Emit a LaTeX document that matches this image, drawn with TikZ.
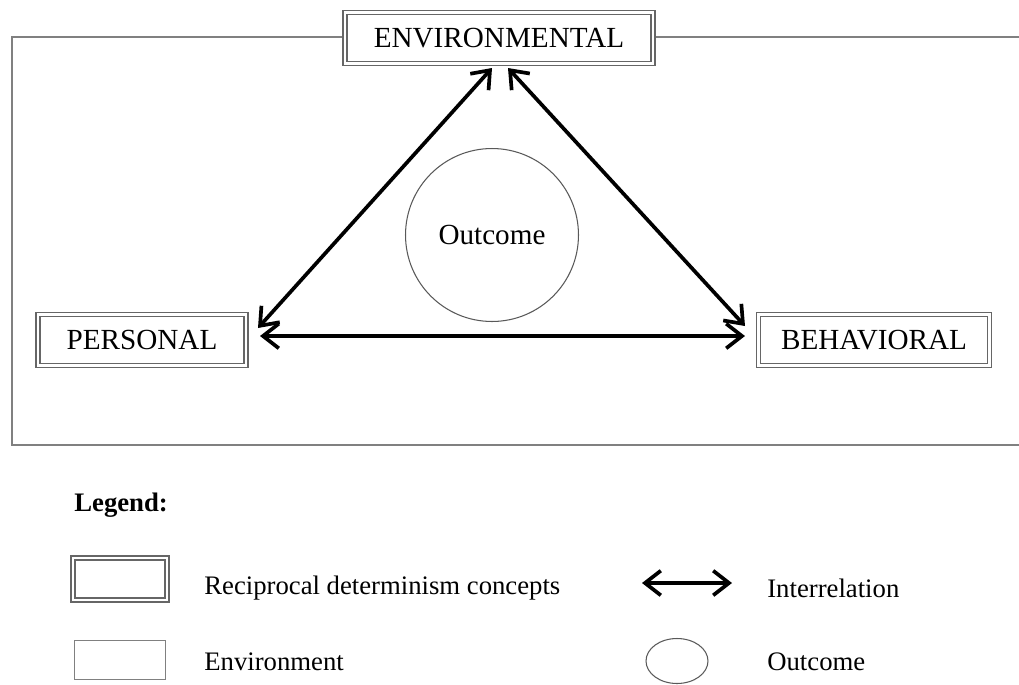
\documentclass[tikz,border=0pt]{standalone}
\usepackage{fontspec}
\setmainfont{Liberation Serif}
\usetikzlibrary{arrows.meta,shapes.geometric}

\tikzset{
  concept/.style={draw=black!60, double=white, double distance=1.2pt, line width=1pt,
    fill=white, minimum height=1.02cm, inner sep=0pt, font=\fontsize{16.6}{19}\selectfont},
  envbox/.style={draw=black!50, line width=0.8pt},
  interrel/.style={{Straight Barb[length=9pt,width=14pt]}-{Straight Barb[length=9pt,width=14pt]},
    line width=2.1pt, line cap=round, line join=round},
  outcome/.style={circle, draw=black!65, line width=0.6pt, inner sep=0pt},
  legtext/.style={anchor=west, inner sep=0pt, font=\fontsize{15.2}{18}\selectfont}
}

\begin{document}
\begin{tikzpicture}[x=0.02cm,y=-0.02cm]
\useasboundingbox (0,0) rectangle (1019,684);

% environment frame
\draw[envbox] (1019,37) -- (12,37) -- (12,445) -- (1019,445);

% the three concepts
\node[concept, minimum width=6.16cm] (env) at (499,38) {ENVIRONMENTAL};
\node[concept, minimum width=4.16cm] (pers) at (142,340) {PERSONAL};
\node[concept, minimum width=4.62cm] (beh) at (874,340) {BEHAVIORAL};

% outcome
\node[outcome, minimum size=3.46cm, font=\fontsize{16.6}{19}\selectfont] (out) at (492,235) {Outcome};

% interrelations
\coordinate (envL) at (492,68);
\coordinate (envR) at (508,68);
\coordinate (persD) at (258,328);
\coordinate (persH) at (260,336);
\coordinate (behD) at (745,326);
\coordinate (behH) at (745,336);
\draw[interrel] (envL) -- (persD);
\draw[interrel] (envR) -- (behD);
\draw[interrel] (persH) -- (behH);

% legend
\node[anchor=west, inner sep=0pt, font=\fontsize{15.2}{18}\selectfont\bfseries] (leg) at (74,505) {Legend:};
\node[concept, minimum width=1.88cm, minimum height=0.84cm] (legcon) at (120,579) {};
\node[legtext] (legcont) at (204,588) {Reciprocal determinism concepts};
\node[envbox, draw, minimum width=1.82cm, minimum height=0.78cm] (legenv) at (120,660) {};
\node[legtext] (legenvt) at (204,662) {Environment};
\coordinate (legaL) at (642,583);
\coordinate (legaR) at (732,583);
\draw[interrel] (legaL) -- (legaR);
\node[legtext] (legat) at (767,588) {Interrelation};
\node[ellipse, draw=black!65, line width=0.6pt, minimum width=1.24cm, minimum height=0.9cm] (legout) at (677,661) {};
\node[legtext] (legoutt) at (767,662) {Outcome};
\end{tikzpicture}
\end{document}
